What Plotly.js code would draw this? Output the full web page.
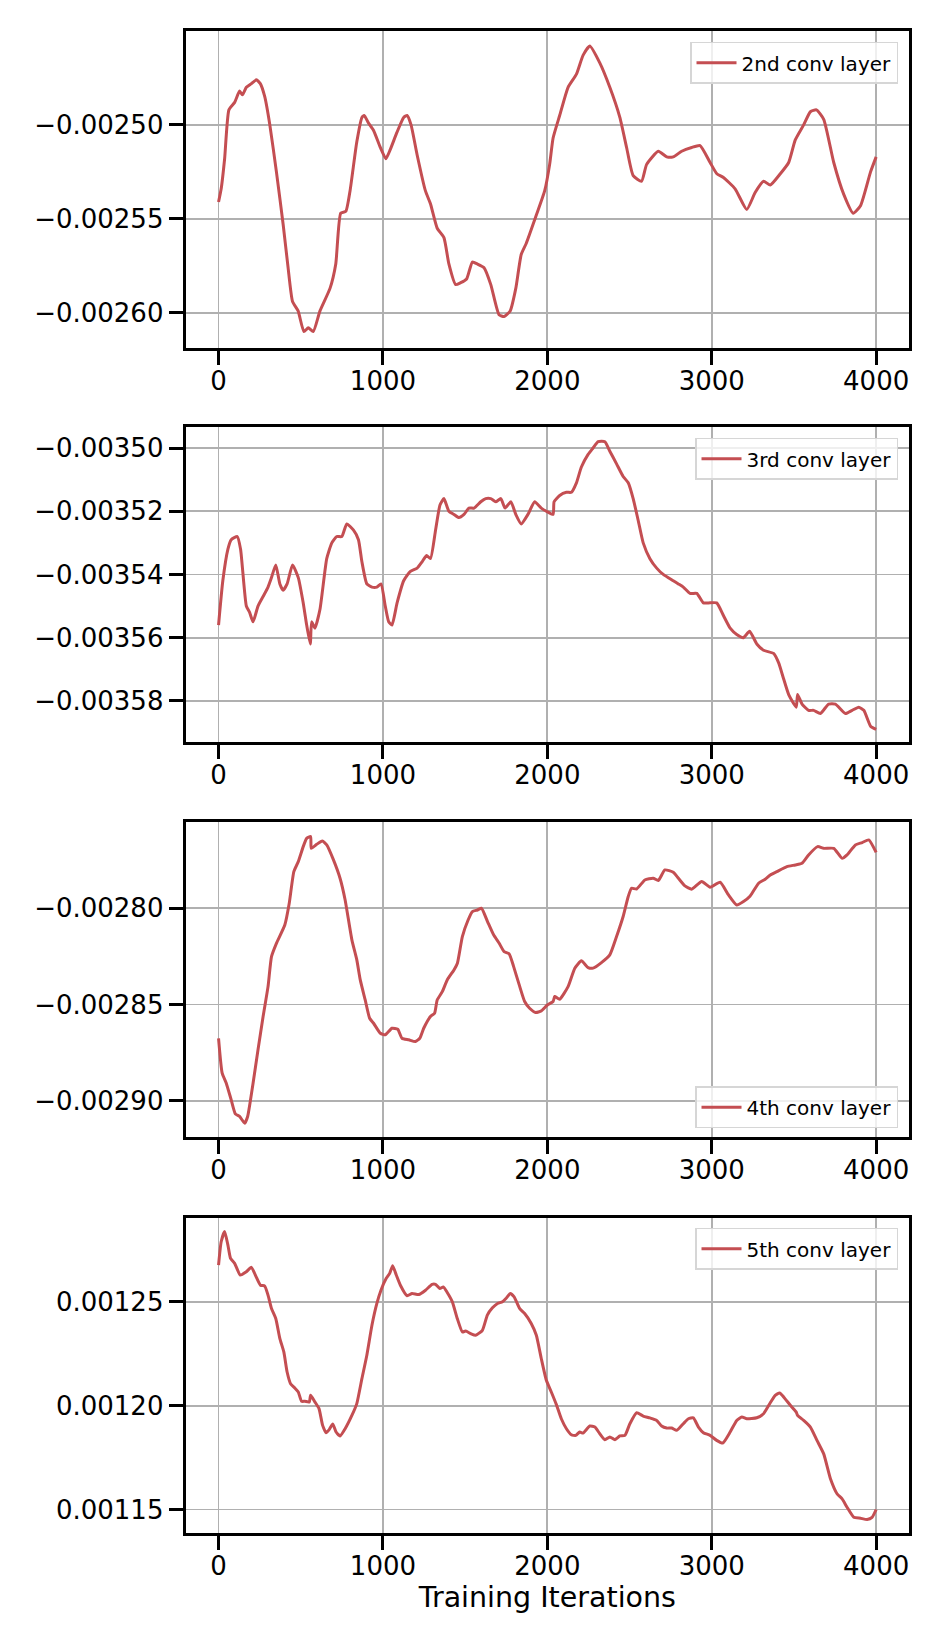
<!DOCTYPE html>
<html>
<head>
<meta charset="utf-8">
<script src="https://cdn.plot.ly/plotly-3.0.1.min.js"></script>
<style>
  body { margin: 0; background: #fff; }
  #myDiv { width: 942px; height: 1648px; }
</style>
</head>
<body>
<div id="myDiv"></div>
<script>
// values (training iteration -> mean weight value)
var iters2 = [0,16,37,63,98,128,145,169,200,230,254,281,312,352,393,423,450,484,519,546,576,617,678,713,743,774,800,841,872,886,912,943,984,1018,1045,1085,1126,1147,1171,1208,1258,1289,1330,1371,1401,1442,1473,1509,1544,1574,1615,1656,1706,1737,1774,1808,1841,1872,1933,1984,2014,2035,2075,2126,2177,2217,2258,2319,2380,2441,2482,2522,2573,2604,2675,2726,2766,2817,2878,2929,2990,3031,3071,3142,3213,3264,3315,3356,3417,3468,3508,3559,3600,3637,3681,3742,3803,3860,3905,3966,4000];
var conv2 = [-0.002541,-0.002534,-0.002518,-0.002492,-0.002488,-0.002482,-0.002484,-0.00248,-0.002478,-0.002476,-0.002478,-0.002485,-0.0025,-0.002525,-0.002553,-0.002576,-0.002594,-0.002599,-0.00261,-0.002608,-0.00261,-0.002599,-0.002587,-0.002574,-0.002547,-0.002546,-0.002535,-0.002509,-0.002496,-0.002495,-0.002499,-0.002503,-0.002512,-0.002518,-0.002513,-0.002504,-0.002496,-0.002495,-0.0025,-0.002516,-0.002535,-0.002542,-0.002555,-0.00256,-0.002574,-0.002585,-0.002584,-0.002582,-0.002573,-0.002574,-0.002576,-0.002585,-0.002601,-0.002602,-0.002599,-0.002587,-0.002569,-0.002563,-0.002548,-0.002535,-0.002521,-0.002507,-0.002495,-0.00248,-0.002473,-0.002463,-0.002458,-0.002467,-0.00248,-0.002496,-0.002512,-0.002527,-0.00253,-0.002521,-0.002514,-0.002517,-0.002517,-0.002514,-0.002512,-0.002511,-0.00252,-0.002526,-0.002528,-0.002534,-0.002545,-0.002536,-0.00253,-0.002532,-0.002526,-0.00252,-0.002508,-0.0025,-0.002493,-0.002492,-0.002497,-0.00252,-0.002537,-0.002547,-0.002543,-0.002525,-0.002517];

var iters3 = [0,26,57,77,114,134,169,189,210,240,271,301,322,348,373,393,417,450,485,515,536,558,566,586,617,658,689,719,750,780,821,851,872,902,933,963,988,1014,1035,1055,1086,1126,1167,1208,1238,1265,1289,1320,1347,1371,1401,1432,1462,1493,1523,1554,1595,1625,1656,1686,1717,1743,1778,1808,1841,1882,1923,1963,1994,2035,2041,2075,2116,2146,2177,2207,2248,2278,2309,2350,2380,2421,2461,2492,2522,2553,2583,2624,2665,2705,2766,2797,2827,2868,2909,2949,2980,3030,3071,3112,3152,3193,3230,3274,3315,3376,3407,3437,3468,3514,3522,3549,3589,3620,3661,3711,3752,3813,3854,3894,3925,3966,4000];
var conv3 = [-0.003556,-0.003542,-0.003532,-0.003529,-0.003528,-0.003532,-0.00355,-0.003552,-0.003555,-0.00355,-0.003547,-0.003544,-0.003541,-0.003537,-0.003543,-0.003545,-0.003543,-0.003537,-0.003541,-0.003549,-0.003556,-0.003562,-0.003555,-0.003557,-0.003551,-0.003535,-0.00353,-0.003528,-0.003528,-0.003524,-0.003526,-0.003529,-0.003536,-0.003543,-0.003544,-0.003544,-0.003543,-0.00355,-0.003555,-0.003556,-0.003549,-0.003542,-0.003539,-0.003538,-0.003536,-0.003534,-0.003535,-0.003526,-0.003518,-0.003516,-0.00352,-0.003521,-0.003522,-0.003521,-0.003519,-0.003519,-0.003517,-0.003516,-0.003516,-0.003517,-0.003516,-0.003519,-0.003517,-0.003521,-0.003524,-0.003521,-0.003517,-0.003519,-0.00352,-0.003521,-0.003517,-0.003515,-0.003514,-0.003514,-0.003511,-0.003506,-0.003502,-0.0035,-0.003498,-0.003498,-0.003501,-0.003505,-0.003509,-0.003511,-0.003516,-0.003523,-0.00353,-0.003535,-0.003538,-0.00354,-0.003542,-0.003543,-0.003544,-0.003546,-0.003546,-0.003549,-0.003549,-0.003549,-0.003553,-0.003557,-0.003559,-0.00356,-0.003558,-0.003562,-0.003564,-0.003565,-0.003568,-0.003573,-0.003578,-0.003582,-0.003578,-0.003581,-0.003583,-0.003583,-0.003584,-0.003581,-0.003581,-0.003584,-0.003583,-0.003582,-0.003583,-0.003588,-0.003589];

var iters4 = [0,22,47,77,102,128,159,177,210,240,271,301,322,352,403,430,458,485,515,536,560,564,597,631,658,699,739,770,811,841,862,892,919,943,984,1014,1055,1090,1116,1157,1197,1224,1248,1289,1314,1330,1361,1391,1432,1453,1483,1518,1544,1575,1599,1636,1673,1707,1737,1768,1795,1829,1862,1892,1929,1963,2000,2035,2045,2075,2126,2167,2207,2248,2278,2329,2380,2421,2461,2492,2512,2543,2593,2644,2675,2715,2766,2797,2837,2878,2939,2990,3051,3102,3152,3193,3234,3285,3325,3356,3396,3457,3508,3549,3589,3644,3681,3742,3793,3823,3874,3915,3955,4000];
var conv4 = [-0.0028675,-0.0028856,-0.0028908,-0.0028995,-0.0029067,-0.0029081,-0.0029116,-0.0029081,-0.0028908,-0.0028735,-0.0028562,-0.0028407,-0.0028251,-0.0028182,-0.0028087,-0.0027974,-0.002781,-0.0027758,-0.002768,-0.0027637,-0.0027628,-0.0027689,-0.0027668,-0.0027651,-0.0027671,-0.0027749,-0.0027844,-0.0027957,-0.0028164,-0.0028268,-0.0028372,-0.0028476,-0.0028571,-0.0028597,-0.0028649,-0.0028657,-0.0028623,-0.0028628,-0.0028675,-0.0028683,-0.0028692,-0.0028675,-0.0028623,-0.0028562,-0.0028545,-0.0028476,-0.0028433,-0.0028372,-0.002832,-0.0028285,-0.0028147,-0.0028061,-0.0028017,-0.0028009,-0.0028,-0.0028069,-0.0028138,-0.0028182,-0.0028225,-0.0028237,-0.0028303,-0.0028398,-0.0028484,-0.0028519,-0.0028541,-0.0028533,-0.0028502,-0.0028484,-0.0028458,-0.0028472,-0.0028407,-0.0028311,-0.0028273,-0.0028308,-0.0028311,-0.0028282,-0.0028242,-0.0028147,-0.0028043,-0.0027939,-0.0027896,-0.00279,-0.0027853,-0.0027844,-0.0027856,-0.0027801,-0.0027813,-0.0027844,-0.0027884,-0.0027901,-0.0027861,-0.0027891,-0.0027865,-0.0027931,-0.0027983,-0.0027965,-0.0027936,-0.002787,-0.0027849,-0.0027827,-0.002781,-0.0027784,-0.0027775,-0.0027766,-0.0027723,-0.002768,-0.0027689,-0.0027689,-0.0027741,-0.0027723,-0.0027671,-0.0027659,-0.0027645,-0.002771];

var iters5 = [0,16,37,57,73,98,132,169,200,226,255,281,301,322,348,373,397,417,438,464,485,505,525,552,560,586,611,633,654,674,695,715,739,770,811,841,872,902,933,963,988,1020,1041,1059,1081,1106,1147,1177,1218,1259,1299,1320,1346,1367,1391,1422,1452,1483,1503,1534,1564,1605,1635,1666,1697,1727,1748,1774,1798,1831,1862,1902,1933,1963,1994,2024,2055,2085,2116,2146,2173,2197,2217,2258,2289,2319,2350,2380,2411,2441,2472,2502,2543,2583,2624,2665,2695,2726,2756,2787,2827,2858,2888,2919,2949,2990,3030,3067,3112,3152,3183,3213,3274,3315,3356,3386,3413,3437,3478,3514,3522,3559,3600,3640,3681,3722,3762,3793,3823,3864,3905,3945,3975,4000];
var conv5 = [0.0012677,0.0012789,0.0012838,0.0012773,0.0012709,0.0012685,0.0012629,0.0012645,0.0012666,0.0012625,0.001258,0.0012576,0.0012532,0.0012468,0.001242,0.0012323,0.0012259,0.0012162,0.0012106,0.0012085,0.0012066,0.0012021,0.0012021,0.0012018,0.001205,0.0012018,0.0011986,0.0011905,0.001187,0.0011886,0.0011912,0.0011873,0.0011854,0.0011889,0.0011953,0.001201,0.001213,0.0012243,0.0012387,0.0012492,0.0012556,0.0012613,0.0012637,0.0012674,0.0012629,0.001258,0.0012529,0.001254,0.0012535,0.0012556,0.0012584,0.0012584,0.0012564,0.0012572,0.0012545,0.00125,0.001242,0.0012355,0.0012359,0.0012347,0.0012339,0.0012363,0.0012436,0.0012471,0.0012492,0.00125,0.0012516,0.001254,0.0012524,0.0012468,0.0012444,0.0012396,0.0012339,0.0012227,0.0012122,0.0012066,0.0012005,0.0011937,0.0011889,0.001186,0.0011857,0.0011873,0.0011868,0.0011902,0.0011897,0.0011865,0.0011836,0.0011849,0.0011836,0.0011854,0.0011857,0.0011913,0.0011966,0.001195,0.0011941,0.0011929,0.0011902,0.0011892,0.0011892,0.0011881,0.0011913,0.0011937,0.0011941,0.0011897,0.001187,0.0011857,0.0011833,0.001182,0.0011873,0.0011929,0.0011945,0.0011937,0.0011942,0.0011961,0.0012014,0.001205,0.0012061,0.0012042,0.0012002,0.0011969,0.0011953,0.0011929,0.0011897,0.0011833,0.0011768,0.0011648,0.0011576,0.0011551,0.0011511,0.0011463,0.0011458,0.0011452,0.0011462,0.00115];

var layerNames = ['2nd conv layer', '3rd conv layer', '4th conv layer', '5th conv layer'];

var xTicks = [0, 1000, 2000, 3000, 4000];
var xTickText = ['0', '1000', '2000', '3000', '4000'];
var yTicks2 = [-0.0026, -0.00255, -0.0025];
var yTickText2 = ['\u22120.00260', '\u22120.00255', '\u22120.00250'];
var yTicks3 = [-0.00358, -0.00356, -0.00354, -0.00352, -0.0035];
var yTickText3 = ['\u22120.00358', '\u22120.00356', '\u22120.00354', '\u22120.00352', '\u22120.00350'];
var yTicks4 = [-0.0029, -0.00285, -0.0028];
var yTickText4 = ['\u22120.00290', '\u22120.00285', '\u22120.00280'];
var yTicks5 = [0.00115, 0.0012, 0.00125];
var yTickText5 = ['0.00115', '0.00120', '0.00125'];

var red = '#c44e52';

function mkTrace(x, y, i) {
  var n = i === 0 ? '' : String(i + 1);
  return {
    x: x, y: y,
    name: layerNames[i],
    type: 'scatter', mode: 'lines',
    line: {color: red, width: 3, shape: 'spline', smoothing: 0.5},
    xaxis: 'x' + n, yaxis: 'y' + n,
    legend: 'legend' + n
  };
}

var data = [
  mkTrace(iters2, conv2, 0),
  mkTrace(iters3, conv3, 1),
  mkTrace(iters4, conv4, 2),
  mkTrace(iters5, conv5, 3)
];

function xAx(anchor) {
  return {
    domain: [0.1971, 0.9650], range: [-200, 4200], anchor: anchor,
    tickvals: xTicks, ticktext: xTickText,
    ticks: 'outside', ticklen: 14, tickwidth: 3, tickcolor: '#000',
    ticklabelstandoff: -6,
    showline: true, linewidth: 3, linecolor: '#000', mirror: true,
    showgrid: true, gridcolor: '#b0b0b0', gridwidth: 1.8, zeroline: false,
    tickfont: {size: 26, color: '#000'}
  };
}

function yAx(anchor, dom, rng, tv, tt) {
  return {
    domain: dom, range: rng, anchor: anchor,
    tickvals: tv, ticktext: tt,
    ticks: 'outside', ticklen: 14, tickwidth: 3, tickcolor: '#000',
    showline: true, linewidth: 3, linecolor: '#000', mirror: true,
    showgrid: true, gridcolor: '#b0b0b0', gridwidth: 1.8, zeroline: false,
    tickfont: {size: 26, color: '#000'}
  };
}

function legendAt(y, yanchor) {
  return {
    x: 0.9533, xanchor: 'right', y: y, yanchor: yanchor,
    bgcolor: 'rgba(255,255,255,0.8)', bordercolor: '#d6d6d6', borderwidth: 1.5,
    itemwidth: 40,
    font: {size: 20, color: '#000'}
  };
}

var xAxis4 = xAx('y4');
xAxis4.title = {text: 'Training Iterations', font: {size: 28.5, color: '#000'}, standoff: 0};

var layout = {
  width: 942, height: 1648,
  margin: {l: 0, r: 0, t: 0, b: 0},
  paper_bgcolor: '#fff', plot_bgcolor: '#fff',
  font: {family: 'DejaVu Sans', size: 26, color: '#000'},
  showlegend: true,
  xaxis: xAx('y'), xaxis2: xAx('y2'), xaxis3: xAx('y3'), xaxis4: xAxis4,
  yaxis: yAx('x', [0.7890, 0.9812], [-0.0026186, -0.00245], yTicks2, yTickText2),
  yaxis2: yAx('x2', [0.5496, 0.7406], [-0.0035931, -0.0034935], yTicks3, yTickText3),
  yaxis3: yAx('x3', [0.3099, 0.5010], [-0.0029189, -0.0027554], yTicks4, yTickText4),
  yaxis4: yAx('x4', [0.0698, 0.2611], [0.0011387, 0.0012905], yTicks5, yTickText5),
  legend: legendAt(0.9747, 'top'),
  legend2: legendAt(0.7344, 'top'),
  legend3: legendAt(0.3154, 'bottom'),
  legend4: legendAt(0.2550, 'top')
};

Plotly.newPlot('myDiv', data, layout, {staticPlot: true});
</script>
</body>
</html>
